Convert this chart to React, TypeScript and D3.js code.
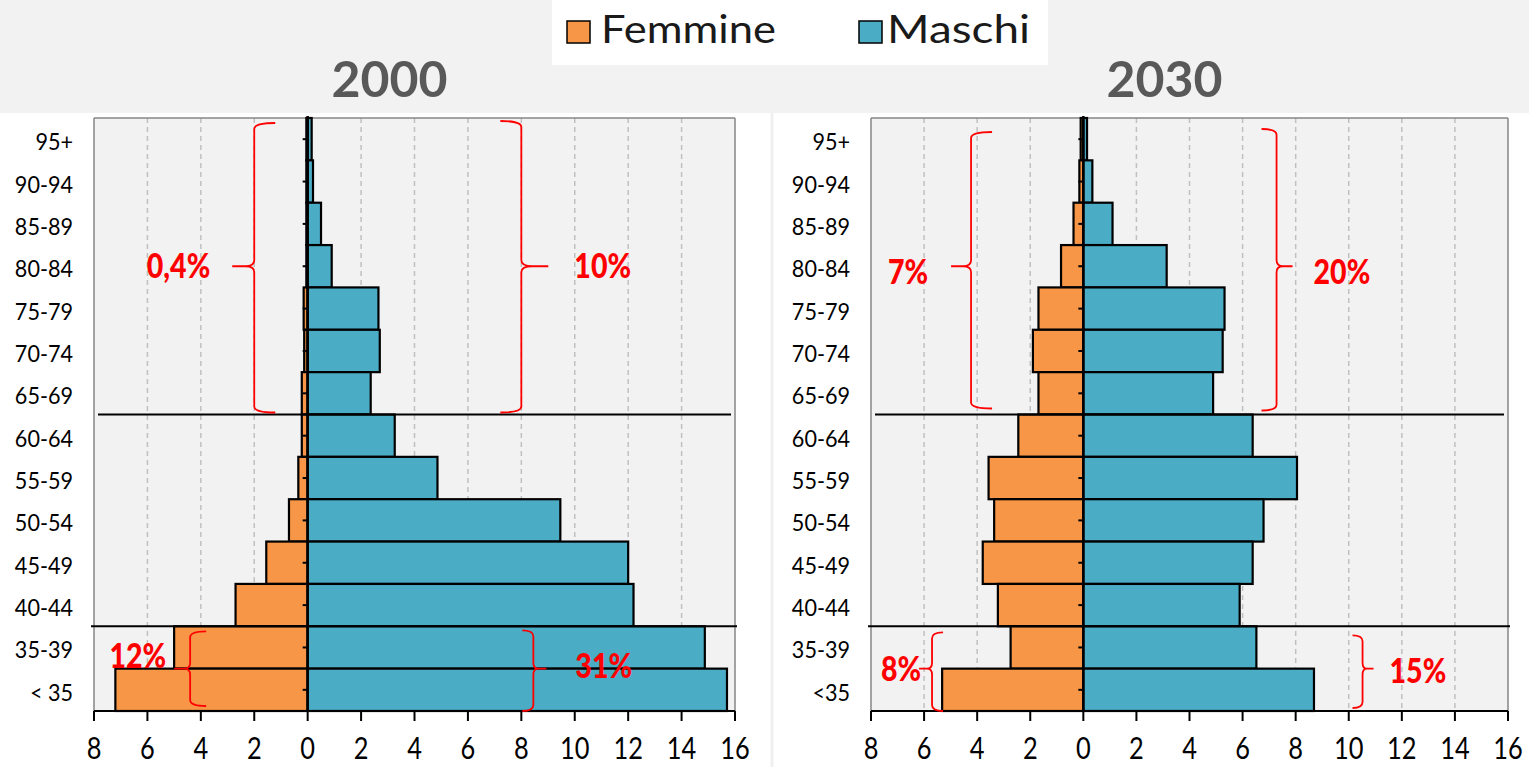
import React from "react";
import * as d3 from "d3";

const AGES_2000 = ["95+", "90-94", "85-89", "80-84", "75-79", "70-74", "65-69", "60-64", "55-59", "50-54", "45-49", "40-44", "35-39", "< 35"];
const AGES_2030 = ["95+", "90-94", "85-89", "80-84", "75-79", "70-74", "65-69", "60-64", "55-59", "50-54", "45-49", "40-44", "35-39", "<35"];
const FEMMINE_2000 = [0.05, 0.05, 0.05, 0.05, 0.15, 0.13, 0.22, 0.22, 0.35, 0.7, 1.55, 2.7, 5.0, 7.2];
const MASCHI_2000 = [0.15, 0.2, 0.5, 0.9, 2.65, 2.7, 2.36, 3.26, 4.86, 9.46, 12.0, 12.2, 14.87, 15.7];
const FEMMINE_2030 = [0.1, 0.15, 0.37, 0.84, 1.69, 1.9, 1.69, 2.45, 3.57, 3.36, 3.79, 3.22, 2.74, 5.32];
const MASCHI_2030 = [0.14, 0.34, 1.1, 3.14, 5.32, 5.25, 4.89, 6.38, 8.05, 6.79, 6.38, 5.89, 6.52, 8.69];
const X_TICKS = [-8, -6, -4, -2, 0, 2, 4, 6, 8, 10, 12, 14, 16];
const SERIES = ["Femmine", "Maschi"];
const TITLES = ["2000", "2030"];
const DIVIDERS = [6, 11]; // boundary after these row indices

type Brace = {
  from: number; to: number; x: number; side: "left" | "right"; label: string;
  insTop: number; insBot: number; arm: number; tip: number; gap: number; dy: number;
};

const BRACES_2000: Brace[] = [
  { from: 0, to: 6, x: -2.0, side: "left", label: "0,4%", insTop: 5, insBot: 2, arm: 21, tip: 22, gap: 22, dy: 0 },
  { from: 0, to: 6, x: 8.0, side: "right", label: "10%", insTop: 3, insBot: 2, arm: 21, tip: 27, gap: 26, dy: 0 },
  { from: 12, to: 13, x: -4.4, side: "left", label: "12%", insTop: 5, insBot: 5, arm: 16, tip: 16, gap: 8, dy: -13 },
  { from: 12, to: 13, x: 8.45, side: "right", label: "31%", insTop: 4, insBot: 0, arm: 11, tip: 13, gap: 29, dy: -3 },
];
const BRACES_2030: Brace[] = [
  { from: 0, to: 6, x: -4.23, side: "left", label: "7%", insTop: 14, insBot: 6, arm: 21, tip: 20, gap: 23, dy: 6 },
  { from: 0, to: 6, x: 7.28, side: "right", label: "20%", insTop: 11, insBot: 4, arm: 15, tip: 16, gap: 21, dy: 6 },
  { from: 12, to: 13, x: -5.7, side: "left", label: "8%", insTop: 6, insBot: 0, arm: 11, tip: 13, gap: -2, dy: 0 },
  { from: 12, to: 13, x: 10.52, side: "right", label: "15%", insTop: 9, insBot: 3, arm: 10, tip: 11, gap: 16, dy: 2 },
];

const ORANGE = "#f79646";
const BLUE = "#4bacc6";
const RED = "#ff0000";
const FONT = "Lato, 'Open Sans', sans-serif";

function bracePath(X: number, T: number, B: number, M: number, a: number, t: number, d: number) {
  const r = 6;
  return [
    `M${X + d * a},${T}`,
    `Q${X},${T} ${X},${T + r}`,
    `L${X},${M - r}`,
    `Q${X},${M} ${X - d * t * 0.4},${M}`,
    `L${X - d * t},${M}`,
    `M${X - d * t * 0.4},${M}`,
    `Q${X},${M} ${X},${M + r}`,
    `L${X},${B - r}`,
    `Q${X},${B} ${X + d * a},${B}`,
  ].join(" ");
}

function Pyramid(props: {
  x0: number; x1: number; title: string; ages: string[]; f: number[]; m: number[]; braces: Brace[];
}) {
  const { x0, x1, title, ages, f, m, braces } = props;
  const top = 118;
  const bottom = 711;
  const x = d3.scaleLinear().domain([-8, 16]).range([x0, x1]);
  const y = d3.scaleBand<string>().domain(ages).range([top, bottom]).padding(0);
  const bw = y.bandwidth();
  const zero = x(0);
  return (
    <g>
      <rect x={x0} y={top} width={x1 - x0} height={bottom - top} fill="#f2f2f2" />
      {X_TICKS.filter((t) => t !== 0 && t !== -8 && t !== 16).map((t) => (
        <line key={"g" + t} x1={x(t)} x2={x(t)} y1={top} y2={bottom} stroke="#c0c0c0" strokeWidth={1.5} strokeDasharray="5,4" />
      ))}
      <line x1={x0} x2={x0} y1={top} y2={bottom} stroke="#868686" strokeWidth={1.5} />
      <line x1={x1} x2={x1} y1={top} y2={bottom} stroke="#868686" strokeWidth={1.5} />
      <line x1={x0} x2={x1} y1={top} y2={top} stroke="#868686" strokeWidth={1.5} />
      <text x={(x0 + x1) / 2 - 25} y={97} textAnchor="middle" fontFamily={FONT} fontWeight="bold" fontSize={50} fill="#595959">{title}</text>
      {ages.map((a, i) => (
        <g key={"b" + a}>
          <rect x={x(-f[i])} y={y(a)!} width={zero - x(-f[i])} height={bw} fill={ORANGE} stroke="#000" strokeWidth={2.2} />
          <rect x={zero} y={y(a)!} width={x(m[i]) - zero} height={bw} fill={BLUE} stroke="#000" strokeWidth={2.2} />
        </g>
      ))}
      {DIVIDERS.map((i, k) => {
        const yy = y(ages[i])! + bw;
        return <line key={"d" + i} x1={k === 0 ? x0 + 4 : x0 - 3} x2={k === 0 ? x1 - 4 : x1 + 2} y1={yy} y2={yy} stroke="#000" strokeWidth={2} />;
      })}
      <line x1={zero} x2={zero} y1={top - 2} y2={bottom} stroke="#000" strokeWidth={2.5} />
      {ages.map((a) => (
        <line key={"yt" + a} x1={zero - 5} x2={zero} y1={y(a)! + bw / 2} y2={y(a)! + bw / 2} stroke="#000" strokeWidth={2} />
      ))}
      {ages.map((a) => (
        <g key={"yl" + a} transform={`translate(${x0 - 21},${y(a)! + bw / 2 + 11}) scale(0.9,1)`}>
          <text x={0} y={0} textAnchor="end" fontFamily={FONT} fontSize={24} fill="#000">{a}</text>
        </g>
      ))}
      <line x1={x0} x2={x1} y1={bottom} y2={bottom} stroke="#000" strokeWidth={2} />
      {X_TICKS.map((t) => (
        <g key={"xt" + t}>
          <line x1={x(t)} x2={x(t)} y1={bottom} y2={bottom + 10} stroke="#000" strokeWidth={2} />
          <g transform={`translate(${x(t)},759) scale(0.82,1)`}>
            <text x={0} y={0} textAnchor="middle" fontFamily={FONT} fontSize={31} fill="#000">{Math.abs(t)}</text>
          </g>
        </g>
      ))}
      {braces.map((b, i) => {
        const X = x(b.x);
        const T = y(ages[b.from])! + b.insTop;
        const B = y(ages[b.to])! + bw - b.insBot;
        const M = (y(ages[b.from])! + y(ages[b.to])! + bw) / 2;
        const d = b.side === "left" ? 1 : -1;
        const tipX = X - d * b.tip;
        const lx = b.side === "left" ? tipX - b.gap : tipX + b.gap;
        return (
          <g key={"br" + i}>
            <path d={bracePath(X, T, B, M, b.arm, b.tip, d)} fill="none" stroke={RED} strokeWidth={1.8} />
            <g transform={`translate(${lx},${M + b.dy + 12}) scale(0.84,1)`}>
              <text x={0} y={0} textAnchor={b.side === "left" ? "end" : "start"} fontFamily={FONT} fontWeight="900" fontSize={34} fill={RED}>{b.label}</text>
            </g>
          </g>
        );
      })}
    </g>
  );
}

export default function App() {
  const W = 1529;
  const H = 767;
  return (
    <svg width={W} height={H} style={{ position: "absolute", left: 0, top: 0, display: "block" }}>
      <rect x={0} y={0} width={W} height={H} fill="#fff" />
      <rect x={0} y={0} width={W} height={113} fill="#f2f2f2" />
      <line x1={772} x2={772} y1={113} y2={H} stroke="#f0f0f0" strokeWidth={3} />
      <rect x={552} y={0} width={496} height={65} fill="#fff" />
      <rect x={567} y={21} width={23} height={22} fill={ORANGE} stroke="#000" strokeWidth={1.5} />
      <text x={601} y={43} fontFamily={FONT} fontSize={38} fill="#1a1a1a" textLength={175} lengthAdjust="spacingAndGlyphs">{SERIES[0]}</text>
      <rect x={859} y={21} width={23} height={22} fill={BLUE} stroke="#000" strokeWidth={1.5} />
      <text x={887} y={43} fontFamily={FONT} fontSize={38} fill="#1a1a1a" textLength={143} lengthAdjust="spacingAndGlyphs">{SERIES[1]}</text>
      <Pyramid x0={94} x1={735} title={TITLES[0]} ages={AGES_2000} f={FEMMINE_2000} m={MASCHI_2000} braces={BRACES_2000} />
      <Pyramid x0={871} x1={1508} title={TITLES[1]} ages={AGES_2030} f={FEMMINE_2030} m={MASCHI_2030} braces={BRACES_2030} />
    </svg>
  );
}
